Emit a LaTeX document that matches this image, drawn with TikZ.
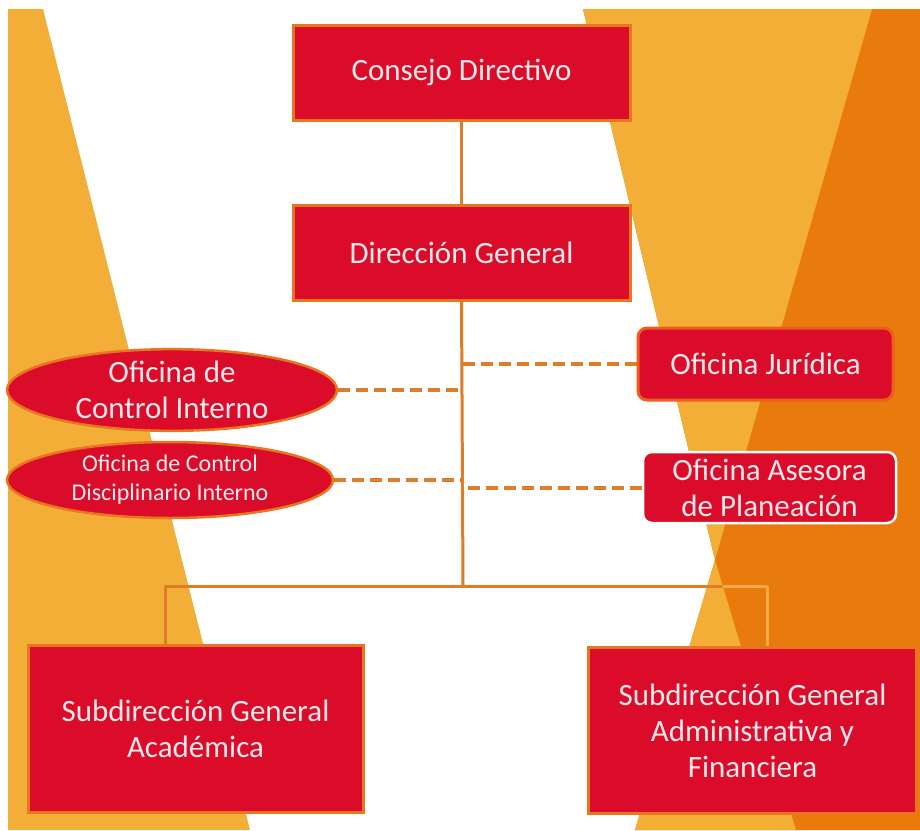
\documentclass[tikz,border=0pt]{standalone}
\usepackage{fontspec}
\setmainfont{Carlito}
\usetikzlibrary{shapes.geometric}
\definecolor{boxred}{RGB}{218,12,42}
\definecolor{edgeor}{RGB}{232,118,32}
\definecolor{bgyel}{RGB}{242,174,54}
\definecolor{bgdor}{RGB}{233,122,12}
\definecolor{lineor}{RGB}{222,124,40}
\definecolor{linelt}{RGB}{244,168,72}
\definecolor{txtpink}{RGB}{253,232,236}
\tikzset{
  orgbox/.style={rectangle, fill=boxred, draw=edgeor, line width=3pt, text=txtpink,
    align=center, font=\fontsize{31}{36}\selectfont, inner sep=0pt},
  sidebox/.style={orgbox, rounded corners=9pt},
  ovalbox/.style={ellipse, fill=boxred, draw=edgeor, line width=2.5pt, text=txtpink,
    align=center, font=\fontsize{31}{36}\selectfont, inner sep=0pt},
  solidlink/.style={draw=lineor, line width=3pt},
  dashlink/.style={draw=lineor, line width=4pt, dash pattern=on 12pt off 6pt},
}
\begin{document}
\begin{tikzpicture}[x=1pt,y=-1pt]
\useasboundingbox (0,0) rectangle (920,830);
\fill[white] (0,0) rectangle (920,830);
% background shapes
\fill[bgyel] (8,9) -- (43,9) -- (250,830) -- (8,830) -- cycle;
\fill[bgdor] (583,9) -- (920,9) -- (920,830) -- (635,830) -- (715,560) -- cycle;
\fill[bgyel] (583,9) -- (872,9) -- (715,560) -- cycle;
\fill[bgyel] (715,560) -- (635,830) -- (796,830) -- cycle;

% nodes
\node[orgbox, minimum width=337pt, minimum height=95pt] (cd) at (461.5,72.5) {Consejo Directivo};
\node[orgbox, minimum width=337pt, minimum height=95pt] (dg) at (461.5,252.5) {Dirección General};
\node[sidebox, draw=edgeor!80!red, minimum width=255pt, minimum height=72pt] (jur) at (765.5,364) {Oficina Jurídica};
\node[sidebox, draw=white, line width=2.5pt, minimum width=253pt, minimum height=71pt] (ase) at (769.5,487.5) {Oficina Asesora\\de Planeación};
\node[ovalbox, minimum width=330pt, minimum height=75pt] (eci) at (172,390) {Oficina de\\Control Interno};
\node[ovalbox, font=\fontsize{24}{29}\selectfont, minimum width=326pt, minimum height=76pt] (ecd) at (170,480) {Oficina de Control\\Disciplinario Interno};
\node[orgbox, minimum width=335pt, minimum height=167pt] (sga) at (195.5,728.5) {Subdirección General\\Académica};
\node[orgbox, minimum width=328pt, minimum height=166pt] (sgf) at (752.5,730.5) {Subdirección General\\Administrativa y\\Financiera};

% connectors
\coordinate (hub) at (463,586);
\coordinate (lt) at (165,586);
\coordinate (rt) at (767,586);
\draw[solidlink] (cd.south) -- (dg.north);
\draw[solidlink] (dg.south) -- (hub);
\draw[solidlink] (lt) -- (rt);
\draw[solidlink] (lt) -- (lt |- sga.north);
\draw[solidlink] (rt) -- (rt |- sgf.north);
\begin{scope}
  \clip (715,560) -- (796,830) -- (920,830) -- (920,540) -- cycle;
  \draw[solidlink, draw=linelt] (lt) -- (rt);
  \draw[solidlink, draw=linelt] (rt) -- (rt |- sgf.north);
\end{scope}
\draw[dashlink] (eci.east) -- (eci.east -| hub);
\draw[dashlink] (ecd.east) -- (ecd.east -| hub);
\draw[dashlink] (jur.west) -- (jur.west -| hub);
\draw[dashlink] (ase.west) -- (ase.west -| hub);
\end{tikzpicture}
\end{document}
